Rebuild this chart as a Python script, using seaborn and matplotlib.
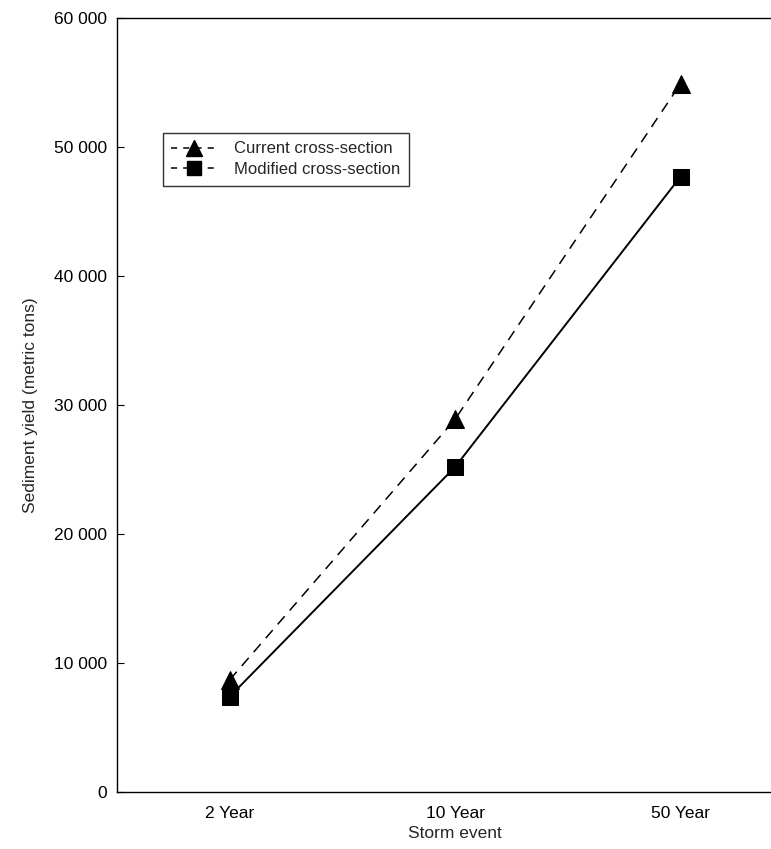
import matplotlib
matplotlib.use("Agg")
import matplotlib.pyplot as plt
import matplotlib.ticker as mticker
from matplotlib.lines import Line2D
import pandas as pd
import seaborn as sns

# Data
storm_events = ["2 Year", "10 Year", "50 Year"]
current_yield = [8700, 28900, 54900]
modified_yield = [7400, 25200, 47700]

df = pd.DataFrame({
    "Storm event": storm_events * 2,
    "Yield": current_yield + modified_yield,
    "Series": ["Current cross-section"] * 3 + ["Modified cross-section"] * 3,
})

sns.set_style("ticks", {"xtick.direction": "in", "ytick.direction": "in"})
plt.rcParams["font.family"] = ["Liberation Sans", "DejaVu Sans"]

fig = plt.figure(figsize=(7.71, 8.49), dpi=100)
ax = fig.add_axes([0.1518, 0.0671, 0.877, 0.9117])

cur = df[df["Series"] == "Current cross-section"]
mod = df[df["Series"] == "Modified cross-section"]

sns.lineplot(data=cur, x="Storm event", y="Yield", ax=ax, color="black",
             linestyle=(0, (7, 5)), linewidth=1.1, marker="^", markersize=13,
             markeredgecolor="black", sort=False)
sns.lineplot(data=mod, x="Storm event", y="Yield", ax=ax, color="black",
             linestyle="-", linewidth=1.4, marker="s", markersize=12,
             markeredgecolor="black", sort=False)

ax.set_xlim(-0.5, 2.5)
ax.set_ylim(0, 60000)
ax.set_yticks(range(0, 60001, 10000))
ax.yaxis.set_major_formatter(mticker.FuncFormatter(
    lambda v, p: "0" if v == 0 else f"{int(v):,}".replace(",", " ")))
ax.tick_params(axis="both", direction="in", labelsize=12.5, length=5,
               width=0.8, colors="black")
ax.tick_params(axis="x", length=0, pad=10)
ax.tick_params(axis="y", pad=7)

ax.set_xlabel("Storm event", fontsize=12.5, labelpad=4)
ax.set_ylabel("Sediment yield (metric tons)", fontsize=12.5, labelpad=12)

for side in ["left", "bottom", "top"]:
    ax.spines[side].set_color("black")
    ax.spines[side].set_linewidth(1.0)
ax.spines["right"].set_visible(False)

handles = [
    Line2D([], [], color="black", linestyle=(0, (4, 4)), linewidth=1.1,
           marker="^", markersize=11),
    Line2D([], [], color="black", linestyle=(0, (4, 4)), linewidth=1.1,
           marker="s", markersize=10),
]
leg = ax.legend(handles, ["Current cross-section", "Modified cross-section"],
                loc="upper left", bbox_to_anchor=(0.055, 0.862), fontsize=12,
                frameon=True, fancybox=False, edgecolor="black",
                handlelength=2.8, borderpad=0.5, labelspacing=0.35,
                handletextpad=1.0)
leg.get_frame().set_linewidth(1.0)

fig.savefig("out.png", dpi=100)
